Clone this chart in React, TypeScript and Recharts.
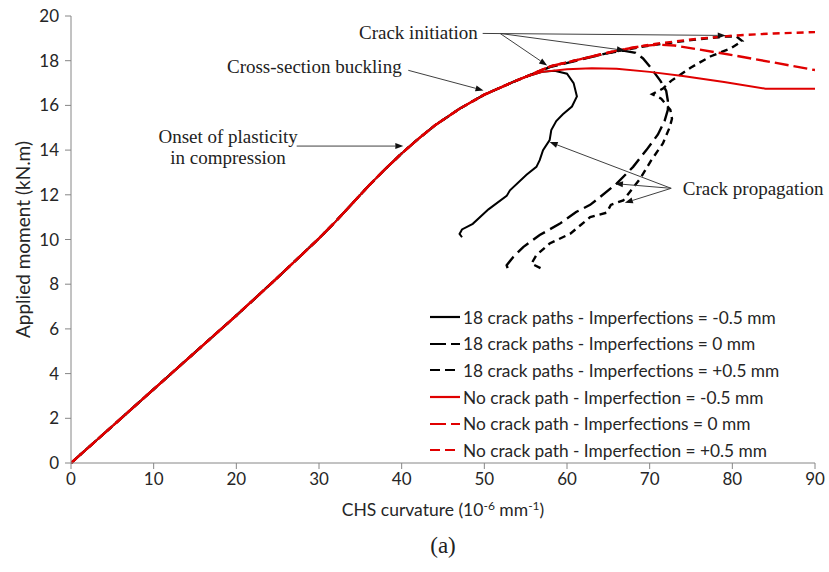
import React from "react"
import {
  LineChart,
  Line,
  XAxis,
  YAxis,
  Legend,
  ReferenceLine,
  ReferenceDot,
} from "recharts"

// common elastic/plastic branch, shared by all six analyses
const SHARED_X = [0, 10, 20, 25, 28, 30, 32, 34, 36, 38, 40, 42, 44, 47, 50, 53.5, 55]
const SHARED_Y = [0, 3.3, 6.6, 8.3, 9.35, 10.05, 10.8, 11.6, 12.4, 13.15, 13.85, 14.5, 15.1, 15.85, 16.48, 17.05, 17.28]

// 18 crack paths
const BLACK_SOLID_X = [57, 58.5, 60, 60.8, 61.2, 60.6, 59.5, 58.7, 58.1, 57.9, 57.1, 56.7, 56.3, 55.1, 53.1, 52.7, 50.5, 48.6, 47.3, 47.0, 47.3]
const BLACK_SOLID_Y = [17.5, 17.55, 17.42, 17.0, 16.4, 15.95, 15.6, 15.3, 14.9, 14.45, 14.0, 13.55, 13.25, 12.9, 12.2, 11.95, 11.35, 10.7, 10.45, 10.25, 10.1]

const BLACK_LONG_X = [58, 62, 65, 66.8, 68.3, 69.2, 70.1, 71.3, 72.0, 72.2, 72.2, 71.8, 71.0, 69.6, 68.0, 66.0, 64.0, 62.8, 61.1, 59.1, 56.7, 54.7, 53.5, 52.7, 52.9]
const BLACK_LONG_Y = [17.72, 18.08, 18.35, 18.45, 18.35, 18.1, 17.7, 17.1, 16.65, 16.2, 15.8, 15.3, 14.7, 14.0, 13.25, 12.5, 11.9, 11.55, 11.23, 10.7, 10.2, 9.66, 9.22, 8.85, 8.62]

const BLACK_SHORT_X = [58, 62, 66, 70, 75, 79, 80.5, 81.2, 79.8, 77.4, 75.0, 72.6, 71.6, 70.3, 71.4, 72.5, 72.7, 72.4, 71.6, 70.2, 68.8, 66.8, 65.3, 64.8, 62.8, 60.4, 57.9, 56.3, 55.7, 56.9]
const BLACK_SHORT_Y = [17.74, 18.1, 18.42, 18.68, 18.92, 19.08, 19.08, 18.88, 18.55, 18.2, 17.7, 17.1, 16.75, 16.5, 16.3, 15.8, 15.4, 15.0, 14.3, 13.55, 12.7, 11.75, 11.55, 11.2, 11.0, 10.26, 9.82, 9.3, 8.92, 8.7]

// no crack path
const RED_SOLID_X = [57, 60, 63, 66, 70, 74, 79, 84, 90]
const RED_SOLID_Y = [17.5, 17.62, 17.66, 17.64, 17.5, 17.32, 17.05, 16.75, 16.75]

const RED_LONG_X = [58, 62, 66, 69, 71, 73, 76, 80, 85, 90]
const RED_LONG_Y = [17.75, 18.1, 18.45, 18.65, 18.72, 18.68, 18.5, 18.25, 17.92, 17.58]

const RED_SHORT_X = [58, 62, 66, 70, 75, 80, 85, 90]
const RED_SHORT_Y = [17.75, 18.1, 18.45, 18.72, 18.95, 19.12, 19.22, 19.28]

const X_TICKS = [0, 10, 20, 30, 40, 50, 60, 70, 80, 90]
const Y_TICKS = [0, 2, 4, 6, 8, 10, 12, 14, 16, 18, 20]

const SERIES_NAMES = [
  "18 crack paths - Imperfections = -0.5 mm",
  "18 crack paths - Imperfections = 0 mm",
  "18 crack paths - Imperfections = +0.5 mm",
  "No crack path - Imperfection = -0.5 mm",
  "No crack path - Imperfections = 0 mm",
  "No crack path - Imperfection = +0.5 mm",
]

// annotation texts and arrows, in data units
const NOTES = [
  { x: 49.2, y: 19.28, text: "Crack initiation", anchor: "end" },
  { x: 40.0, y: 17.72, text: "Cross-section buckling", anchor: "end" },
  { x: 19.0, y: 14.62, text: "Onset of plasticity", anchor: "middle" },
  { x: 19.0, y: 13.68, text: "in compression", anchor: "middle" },
  { x: 74.0, y: 12.29, text: "Crack propagation", anchor: "start" },
]
const ARROWS = [
  [49.8, 19.22, 79.2, 19.13],
  [51.9, 19.22, 67.0, 18.46],
  [51.9, 19.22, 57.6, 17.79],
  [40.8, 17.57, 49.9, 16.67],
  [27.3, 14.18, 40.2, 14.18],
  [72.6, 12.29, 57.9, 14.36],
  [72.6, 12.29, 65.8, 12.5],
  [72.6, 12.29, 67.0, 11.64],
]

const RED = "#E00000"
const BLACK = "#000000"
const AXIS = "#868686"
const TEXT = "#262626"

const toPoints = (xs: number[], ys: number[]) =>
  xs.map((x, i) => ({ x, y: ys[i] }))

const withShared = (xs: number[], ys: number[]) => [
  ...toPoints(SHARED_X, SHARED_Y),
  ...toPoints(xs, ys),
]

const series = [
  { name: SERIES_NAMES[0], color: BLACK, dash: undefined, legendDash: undefined, width: 2, data: withShared(BLACK_SOLID_X, BLACK_SOLID_Y) },
  { name: SERIES_NAMES[1], color: BLACK, dash: "14 6", legendDash: "16 5", width: 2.4, data: withShared(BLACK_LONG_X, BLACK_LONG_Y) },
  { name: SERIES_NAMES[2], color: BLACK, dash: "7 5", legendDash: "10 5", width: 2.4, data: withShared(BLACK_SHORT_X, BLACK_SHORT_Y) },
  { name: SERIES_NAMES[3], color: RED, dash: undefined, legendDash: undefined, width: 2, data: withShared(RED_SOLID_X, RED_SOLID_Y) },
  { name: SERIES_NAMES[4], color: RED, dash: "14 5", legendDash: "16 5", width: 2.4, data: withShared(RED_LONG_X, RED_LONG_Y) },
  { name: SERIES_NAMES[5], color: RED, dash: "7 5", legendDash: "10 5", width: 2.4, data: withShared(RED_SHORT_X, RED_SHORT_Y) },
]

function ArrowShape(props: any) {
  const { x1, y1, x2, y2 } = props
  const ang = Math.atan2(y2 - y1, x2 - x1)
  const len = 8
  const hw = 3
  const bx = x2 - len * Math.cos(ang)
  const by = y2 - len * Math.sin(ang)
  const px = -Math.sin(ang) * hw
  const py = Math.cos(ang) * hw
  return (
    <g>
      <line x1={x1} y1={y1} x2={bx} y2={by} stroke="#404040" strokeWidth={1} />
      <polygon
        points={`${x2},${y2} ${bx + px},${by + py} ${bx - px},${by - py}`}
        fill="#111"
      />
    </g>
  )
}

function LegendBox() {
  return (
    <div style={{ fontFamily: "Lato", fontSize: 17.3, color: TEXT }}>
      {series.map((s) => (
        <div key={s.name} style={{ display: "flex", alignItems: "center", height: 26.6 }}>
          <svg width={32} height={10} style={{ marginRight: 1 }}>
            <line
              x1={0}
              y1={5}
              x2={30}
              y2={5}
              stroke={s.color}
              strokeWidth={2.2}
              strokeDasharray={s.legendDash}
            />
          </svg>
          <span style={{ whiteSpace: "nowrap" }}>{s.name}</span>
        </div>
      ))}
    </div>
  )
}

function XLabel(props: any) {
  const { viewBox } = props
  const cx = viewBox.x + viewBox.width / 2
  return (
    <text x={cx} y={516} textAnchor="middle" fontSize={17.5} fill={TEXT} fontFamily="Lato">
      CHS curvature (10
      <tspan fontSize={12} dy={-6}>-6</tspan>
      <tspan dy={6}> mm</tspan>
      <tspan fontSize={12} dy={-6}>-1</tspan>
      <tspan dy={6}>)</tspan>
    </text>
  )
}

function YLabel(props: any) {
  const { viewBox } = props
  const cx = 22
  const cy = viewBox.y + viewBox.height / 2
  return (
    <text
      x={cx}
      y={cy}
      transform={`rotate(-90 ${cx} ${cy})`}
      textAnchor="middle"
      dominantBaseline="central"
      fontSize={19}
      fill={TEXT}
      fontFamily="Lato"
    >
      Applied moment (kN.m)
    </text>
  )
}

export default function App() {
  return (
    <div style={{ position: "absolute", left: 0, top: 0, width: 829, height: 572, background: "#fff", fontFamily: "Lato" }}>
      <LineChart width={829} height={572} margin={{ top: 16, right: 14, bottom: 79, left: 0 }}>
        <XAxis
          type="number"
          dataKey="x"
          domain={[0, 90]}
          ticks={X_TICKS}
          allowDataOverflow
          stroke={AXIS}
          tick={{ fill: TEXT, fontSize: 17 }}
          tickMargin={4}
          label={<XLabel />}
        />
        <YAxis
          type="number"
          dataKey="y"
          domain={[0, 20]}
          ticks={Y_TICKS}
          width={71}
          stroke={AXIS}
          tick={{ fill: TEXT, fontSize: 17 }}
          tickMargin={6}
          label={<YLabel />}
        />
        {series.map((s) => (
          <Line
            key={s.name}
            data={s.data}
            dataKey="y"
            name={s.name}
            type="linear"
            stroke={s.color}
            strokeWidth={s.width}
            strokeDasharray={s.dash}
            dot={false}
            activeDot={false}
            isAnimationActive={false}
          />
        ))}
        {ARROWS.map((a, i) => (
          <ReferenceLine
            key={`arrow-${i}`}
            segment={[
              { x: a[0], y: a[1] },
              { x: a[2], y: a[3] },
            ]}
            shape={ArrowShape}
          />
        ))}
        {NOTES.map((n) => (
          <ReferenceDot
            key={n.text}
            x={n.x}
            y={n.y}
            r={0}
            shape={(p: any) => (
              <text
                x={p.cx}
                y={p.cy}
                textAnchor={n.anchor}
                dominantBaseline="central"
                fontFamily="Liberation Serif"
                fontSize={19}
                fill="#222"
              >
                {n.text}
              </text>
            )}
          />
        ))}
        <Legend
          layout="vertical"
          align="center"
          verticalAlign="middle"
          content={<LegendBox />}
          wrapperStyle={{ left: 430, top: 304, width: 390 }}
        />
      </LineChart>
      <div
        style={{
          position: "absolute",
          left: 443,
          top: 546,
          transform: "translate(-50%, -50%)",
          fontFamily: "Liberation Serif",
          fontSize: 23,
          color: "#222",
        }}
      >
        (a)
      </div>
    </div>
  )
}
